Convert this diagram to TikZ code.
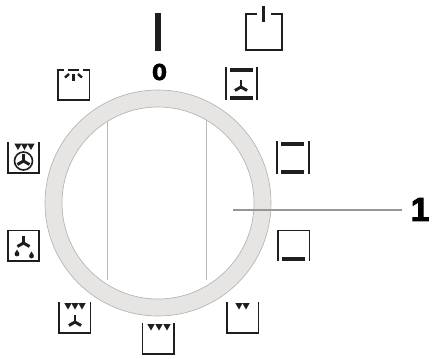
\documentclass[tikz,border=0pt]{standalone}
\usepackage{fontspec}
\setmainfont{Liberation Sans}
\newfontfamily\zerofont[FakeBold=1.5]{DejaVu Sans}
\newfontfamily\onefont[FakeBold=3]{Liberation Sans}
\definecolor{ringgrey}{RGB}{230,229,227}
\definecolor{ringedge}{RGB}{180,180,178}
\definecolor{leadergrey}{RGB}{150,150,150}
\definecolor{iconblack}{RGB}{30,30,30}

\begin{document}
\begin{tikzpicture}[
    x=0.75pt,
    y=-0.75pt,
    icon box/.style={
      iconblack,
      line width=1.15pt
    },
    icon bar/.style={
      iconblack,
      line width=2.6pt
    },
    fan blade/.style={
      iconblack,
      line width=2.2pt
    },
    icon mark/.style={
      fill=iconblack,
      draw=none
    },
    window line/.style={
      black!28,
      line width=0.6pt
    },
    callout/.style={
      inner sep=0pt
    }
]
\useasboundingbox (0,0) rectangle (432,358);

% Dial ring and the two window lines.
\fill[ringgrey,even odd rule] (158,203) circle (113) (158,203) circle (96);
\draw[ringedge,line width=0.5pt] (158,203) circle (113);
\draw[ringedge,line width=0.5pt] (158,203) circle (96);
\draw[window line] (107.5,121) -- (107.5,280);
\draw[window line] (206.5,120) -- (206.5,280);

% Zero mark.
\draw[iconblack,line width=4.2pt] (158,13) -- (158,51);
\node[callout,font=\zerofont\bfseries\fontsize{16.5}{18}\selectfont] (zero) at (159.5,72) {0};

% Callout.
\coordinate (leaderstart) at (233,209.5);
\node[callout,anchor=west,font=\onefont\bfseries\fontsize{25}{26}\selectfont] (one) at (410.5,209.5) {1};
\draw[leadergrey,line width=1.5pt] (leaderstart) -- (402,209.5);

% Power symbol.
\draw[iconblack,line width=1.5pt] (257,13.5) -- (245.5,13.5) -- (245.5,49.5) -- (281.5,49.5) -- (281.5,13.5) -- (271,13.5);
\draw[iconblack,line width=2.2pt] (263.5,6) -- (263.5,22);

% Boxes closed all round.
\draw[icon box] (8,230.5) rectangle (39,261);
\draw[icon box] (8,142) -- (8,173) -- (39,173) -- (39,142);
\draw[icon box] (278,261) -- (278,230.5) -- (309.5,230.5) -- (309.5,261);
\foreach \x in {226,257}
  \draw[icon box] (\x,67) -- (\x,100);
\foreach \x in {277,309}
  \draw[icon box] (\x,141) -- (\x,174);

% Boxes open at the top.
\foreach \x/\y in {58/69,59/302,227/302,142.5/323}
  \draw[icon box] (\x,\y) -- (\x,\y+31) -- (\x+31.5,\y+31) -- (\x+31.5,\y);

% Heater bars.
\foreach \xa/\xb/\y in {230/253/70,230/253/98,281/304/144,281/304/172,282/305/259}
  \draw[icon bar] (\xa,\y) -- (\xb,\y);

% Grill rays.
\foreach \xa/\xb in {58/64,68/79,83/90}
  \draw[iconblack,line width=1.8pt] (\xa,70) -- (\xb,70);
\foreach \xa/\ya/\xb/\yb in {73.5/74/73.5/81,69/74/65/77.5,78/74/82/77.5}
  \draw[iconblack,line width=1.8pt] (\xa,\ya) -- (\xb,\yb);

% Grill triangles.
\foreach \x/\y in {18/143.5,24.5/143.5,31/143.5,68/303,75/303,82/303,239/303,246/303,151/324,159/324,167/324}
  \fill[icon mark] (\x-3.7,\y) -- (\x+3.7,\y) -- (\x,\y+6.5) -- cycle;

% Fans.
\foreach \x/\y in {241/87,23.5/243,75/322,23.5/161}
  \foreach \a in {270,30,150}
    \draw[fan blade] (\x,\y) -- ++(\a:7);
\draw[iconblack,line width=1.2pt] (23.5,161) circle (9);

% Drops.
\foreach \x/\y in {17/254,31.5/256}{
  \fill[icon mark] (\x,\y) circle (2.4);
  \fill[icon mark] (\x-1.9,\y-1.2) -- (\x,\y-4.5) -- (\x+1.9,\y-1.2) -- cycle;
}

\end{tikzpicture}
\end{document}
